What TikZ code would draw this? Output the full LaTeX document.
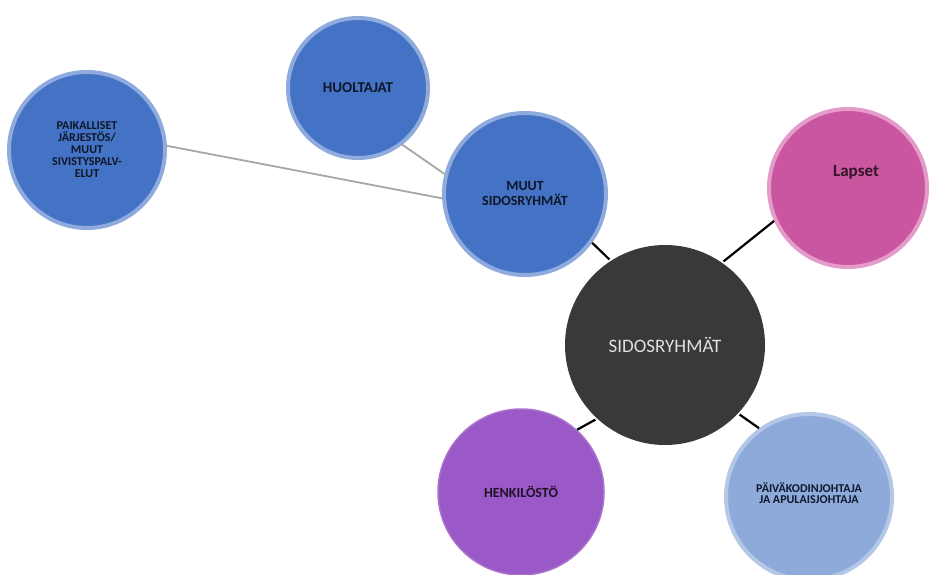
\documentclass[tikz,border=0pt]{standalone}
\usepackage{fontspec}
\setmainfont{Carlito}
\usetikzlibrary{backgrounds}
\definecolor{kblue}{HTML}{4472C4}
\definecolor{kblueedge}{HTML}{8FAADC}
\definecolor{kdark}{HTML}{3B3838}
\definecolor{kpink}{HTML}{C9569F}
\definecolor{kpinkedge}{HTML}{E29BCB}
\definecolor{kpurple}{HTML}{9B59C7}
\definecolor{klight}{HTML}{8EAADB}
\definecolor{klightedge}{HTML}{B4C7E7}
\definecolor{kline}{HTML}{A6A6A6}

\begin{document}
\begin{tikzpicture}[x=1pt,y=-1pt,
    ball/.style={circle,inner sep=0pt,align=center,line width=4pt},
    bluball/.style={ball,fill=kblue,draw=kblueedge,text=black!80!kblue},
    thin link/.style={draw=kline,line width=1.8pt},
    dark link/.style={draw=black,line width=2.2pt}]
    \useasboundingbox (0,0) rectangle (929,575);
	%the outer ring
    \node[bluball,minimum size=156pt,font=\bfseries\fontsize{12}{12}\selectfont] (paik) at (87,150)
        {PAIKALLISET\\J\"ARJEST\"OS/\\MUUT\\SIVISTYSPALV-\\ELUT};
    \node[bluball,minimum size=140pt,font=\bfseries\fontsize{15}{16}\selectfont] (huol) at (358,88) {HUOLTAJAT};
    \node[bluball,minimum size=162pt,font=\bfseries\fontsize{14}{15}\selectfont] (muut) at (525,194) {MUUT\\SIDOSRYHM\"AT};
	%the centre
    \node[ball,minimum size=200pt,fill=kdark,draw=none,text=white!88!black,font=\fontsize{19}{19}\selectfont] (sido) at (665,345) {SIDOSRYHM\"AT};
    \node[ball,minimum size=158pt,fill=kpink,draw=kpinkedge,
        label={[text=black!75!kpink,font=\bfseries\fontsize{17}{17}\selectfont,xshift=8pt,yshift=16pt]center:Lapset}] (laps) at (848,188) {};
    \node[ball,minimum size=166pt,fill=kpurple,draw=kpurple!85!white,line width=1.5pt,text=black!80!kpurple,font=\bfseries\fontsize{14}{14}\selectfont] (henk) at (521,492) {HENKIL\"OST\"O};
    \node[ball,minimum size=166pt,fill=klight,draw=klightedge,text=black!78!kblue,font=\bfseries\fontsize{12}{14}\selectfont] (paiv) at (809,497)
        {\raisebox{7pt}{\shortstack{P\"AIV\"AKODINJOHTAJA\\JA APULAISJOHTAJA}}};
	%the links
    \draw[thin link] (paik.3) -- (muut.183);
    \draw[thin link] (huol.-52) -- (muut.166);
    \draw[dark link] (muut.-36) -- (sido.123);
    \draw[dark link] (sido.55) -- (laps.204);
    \draw[dark link] (henk.48) -- (sido.227);
    \draw[dark link] (sido.-43) -- (paiv.126);
\end{tikzpicture}
\end{document}
